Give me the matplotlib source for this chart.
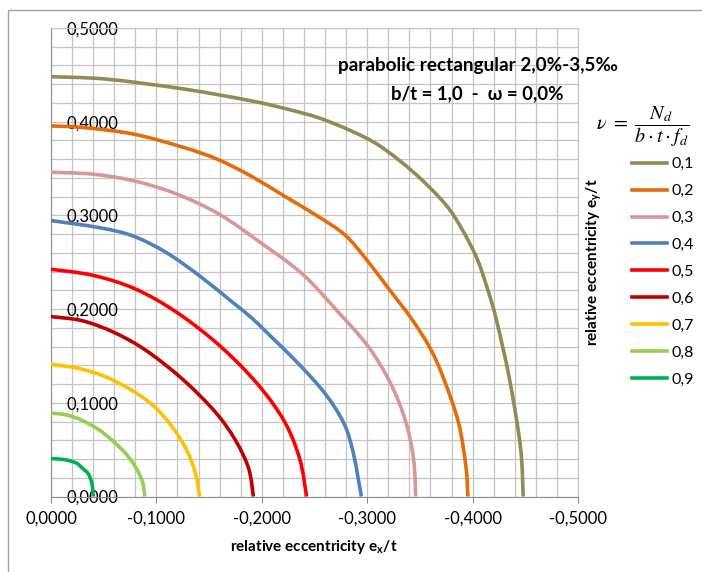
import matplotlib
matplotlib.use("Agg")
import matplotlib.pyplot as plt
from matplotlib.ticker import MultipleLocator, FuncFormatter
from matplotlib.patches import Rectangle, PathPatch
from matplotlib.path import Path
from matplotlib.lines import Line2D

plt.rcParams['font.family'] = ['Lato', 'DejaVu Sans']
plt.rcParams['mathtext.fontset'] = 'stix'

W, H = 702, 572

## Interaction curves: relative eccentricities ex/t (negative) and ey/t
nu_labels = ["0,1", "0,2", "0,3", "0,4", "0,5", "0,6", "0,7", "0,8", "0,9"]
colors = ["#948A54", "#E46C0A", "#D99694", "#4F81BD", "#FF0000",
          "#C00000", "#FFC000", "#92D050", "#00B050"]

ex_01 = [0, -0.0530, -0.1265, -0.1898, -0.2220, -0.2530, -0.2846, -0.3120, -0.3450,
         -0.3741, -0.3903, -0.4045, -0.4140, -0.4223, -0.4348, -0.4454, -0.4480]
ey_01 = [0.4480, 0.4454, 0.4348, 0.4223, 0.4140, 0.4045, 0.3903, 0.3741, 0.3450,
         0.3120, 0.2846, 0.2530, 0.2220, 0.1898, 0.1265, 0.0530, 0.0]

ex_02 = [0, -0.0316, -0.0790, -0.1265, -0.1581, -0.1898, -0.2214, -0.2530, -0.2790,
         -0.2992, -0.3206, -0.3420, -0.3598, -0.3723, -0.3866, -0.3937, -0.3955]
ey_02 = [0.3955, 0.3937, 0.3866, 0.3723, 0.3598, 0.3420, 0.3206, 0.2992, 0.2790,
         0.2530, 0.2214, 0.1898, 0.1581, 0.1265, 0.0790, 0.0316, 0.0]

ex_03 = [0, -0.0400, -0.0800, -0.1200, -0.1600, -0.2000, -0.2380, -0.2700, -0.3010,
         -0.3225, -0.3365, -0.3440, -0.3460]
ey_03 = [0.3460, 0.3440, 0.3365, 0.3225, 0.3010, 0.2700, 0.2380, 0.2000, 0.1600,
         0.1200, 0.0800, 0.0400, 0.0]

ex_04 = [0, -0.0465, -0.0781, -0.1097, -0.1414, -0.1730, -0.1905, -0.2066, -0.2351,
         -0.2601, -0.2779, -0.2868, -0.2945]
ey_04 = [0.2945, 0.2868, 0.2779, 0.2601, 0.2351, 0.2066, 0.1905, 0.1730, 0.1414,
         0.1097, 0.0781, 0.0465, 0.0]

ex_05 = [0, -0.0400, -0.0800, -0.1200, -0.1605, -0.1960, -0.2215, -0.2360, -0.2425]
ey_05 = [0.2425, 0.2360, 0.2215, 0.1960, 0.1605, 0.1200, 0.0800, 0.0400, 0.0]

ex_06 = [0, -0.0300, -0.0600, -0.0900, -0.1250, -0.1560, -0.1750, -0.1875, -0.1920]
ey_06 = [0.1920, 0.1875, 0.1750, 0.1560, 0.1250, 0.0900, 0.0600, 0.0300, 0.0]

ex_07 = [0, -0.0250, -0.0500, -0.0750, -0.0970, -0.1145, -0.1285, -0.1370, -0.1410]
ey_07 = [0.1410, 0.1370, 0.1285, 0.1145, 0.0970, 0.0750, 0.0500, 0.0250, 0.0]

ex_08 = [0, -0.0150, -0.0300, -0.0450, -0.0590, -0.0715, -0.0810, -0.0870, -0.0890]
ey_08 = [0.0890, 0.0870, 0.0810, 0.0715, 0.0590, 0.0450, 0.0300, 0.0150, 0.0]

ex_09 = [0, -0.0130, -0.0240, -0.0300, -0.0355, -0.0390, -0.0400]
ey_09 = [0.0405, 0.0393, 0.0357, 0.0300, 0.0240, 0.0130, 0.0]

curves = [(ex_01, ey_01), (ex_02, ey_02), (ex_03, ey_03), (ex_04, ey_04), (ex_05, ey_05),
          (ex_06, ey_06), (ex_07, ey_07), (ex_08, ey_08), (ex_09, ey_09)]


def fx(x, y):
    # figure pixel -> figure fraction
    return x / W, 1 - y / H


def fmt(v, pos):
    s = f"{v:.4f}".replace('.', ',')
    return "0,0000" if s == "-0,0000" else s


def smooth_path(xs, ys):
    # bezier path through the points, like a spreadsheet "smoothed line"
    pts = list(zip(xs, ys))
    n = len(pts)
    verts = [pts[0]]
    codes = [Path.MOVETO]
    for i in range(n - 1):
        p0 = pts[max(i - 1, 0)]
        p1 = pts[i]
        p2 = pts[i + 1]
        p3 = pts[min(i + 2, n - 1)]
        c1 = (p1[0] + (p2[0] - p0[0]) / 6, p1[1] + (p2[1] - p0[1]) / 6)
        c2 = (p2[0] - (p3[0] - p1[0]) / 6, p2[1] - (p3[1] - p1[1]) / 6)
        verts += [c1, c2, p2]
        codes += [Path.CURVE4] * 3
    return Path(verts, codes)


fig = plt.figure(figsize=(W / 100, H / 100), dpi=100)
ax = fig.add_axes([51 / W, 1 - 496.5 / H, (578 - 51) / W, (496.5 - 28) / H])

lw = 2.6
handles = []
for (ex, ey), c, lab in zip(curves, colors, nu_labels):
    ax.add_patch(PathPatch(smooth_path(ex, ey), facecolor='none', edgecolor=c, lw=lw,
                           clip_on=False, zorder=3, capstyle='butt'))
    handles.append(Line2D([], [], color=c, lw=lw, label=lab))

ax.set_xlim(0, -0.5)
ax.set_ylim(0, 0.5)
ax.xaxis.set_major_locator(MultipleLocator(0.1))
ax.xaxis.set_minor_locator(MultipleLocator(0.02))
ax.yaxis.set_major_locator(MultipleLocator(0.1))
ax.yaxis.set_minor_locator(MultipleLocator(0.02))
ax.xaxis.set_major_formatter(FuncFormatter(fmt))
ax.yaxis.set_major_formatter(FuncFormatter(fmt))
ax.grid(which='both', color='#C4C4C4', lw=0.9, zorder=0)
ax.set_axisbelow(True)

for s in ['top', 'right']:
    ax.spines[s].set_color('#C4C4C4')
for s in ['left', 'bottom']:
    ax.spines[s].set_color('#8C8C8C')

ax.tick_params(axis='x', which='major', direction='out', length=4, color='#8C8C8C',
               pad=6, labelsize=12)
ax.tick_params(axis='x', which='minor', length=0)
ax.tick_params(axis='y', which='both', length=0, pad=-10.8, labelsize=12)
for t in ax.get_yticklabels():
    t.set_horizontalalignment('left')

fig.text(*fx(314, 547), 'relative eccentricity e$_\\mathregular{x}$/t', ha='center',
         va='center', fontsize=11, fontweight='bold')
fig.text(*fx(595, 262), 'relative eccentricity e$_\\mathregular{y}$/t', ha='center',
         va='center', fontsize=11, fontweight='bold', rotation=90)

fig.text(*fx(478, 66), 'parabolic rectangular 2,0%-3,5‰', ha='center', va='center',
         fontsize=13.6, fontweight='bold')
fig.text(*fx(477, 94), 'b/t = 1,0  -  ω = 0,0%', ha='center', va='center',
         fontsize=13.4, fontweight='bold')
fig.text(*fx(596, 127), r'$\nu\ =\ \dfrac{N_d}{b\cdot t\cdot f_d}$', ha='left',
         va='center', fontsize=14.5)

ax.legend(handles=handles, loc='upper left', bbox_to_anchor=fx(632, 157),
          bbox_transform=fig.transFigure, frameon=False, fontsize=11.5,
          handlelength=2.2, handletextpad=0.3, labelspacing=0.8, borderpad=0,
          borderaxespad=0)

# outer chart border
fig.add_artist(Rectangle(fx(8, 600), 1.2, (600 - 10) / H, transform=fig.transFigure,
                         fill=False, edgecolor='#A0A0A0', lw=1))

fig.savefig('out.png', dpi=100)
